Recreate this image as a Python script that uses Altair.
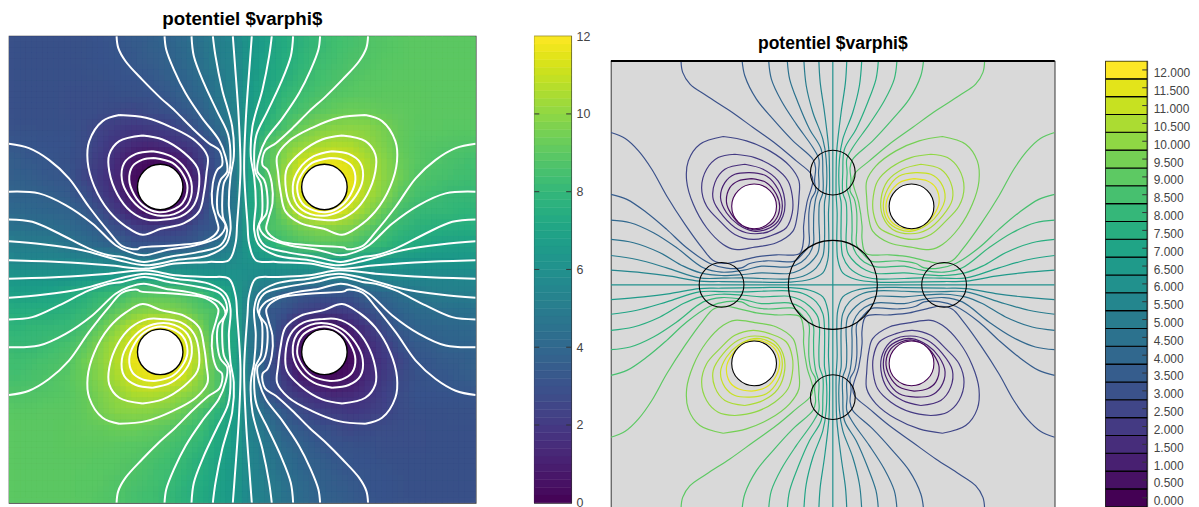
import altair as alt
import pandas as pd

FONT = "Liberation Sans"
TITLE = "potentiel $varphi$"

# ---- left panel: field estimated on the upper-left quadrant (rows top to bottom)
FIELD = [
 [3.0,3.0,3.0,3.0,3.05,3.15,3.25,3.45,3.6,3.85,4.2,4.6,5.1,5.6],
 [3.0,3.0,3.0,3.0,3.05,3.1,3.2,3.35,3.55,3.75,4.1,4.5,5.0,5.55],
 [3.0,3.0,3.0,3.0,3.0,3.05,3.1,3.2,3.4,3.6,3.9,4.35,4.9,5.45],
 [3.0,3.0,3.0,2.95,2.95,2.95,3.0,3.05,3.15,3.4,3.7,4.05,4.75,5.4],
 [3.0,3.0,3.0,2.95,2.9,2.85,2.7,2.65,2.8,3.0,3.4,3.75,4.55,5.35],
 [3.05,3.05,3.0,3.0,2.85,2.45,2.15,2.05,2.1,2.3,2.7,3.4,4.1,5.2],
 [3.25,3.2,3.15,3.1,2.85,2.35,1.9,1.5,1.4,1.6,2.0,2.4,3.3,5.05],
 [3.55,3.4,3.25,3.05,2.7,2.1,1.5,0.7,0.4,0.5,1.0,2.1,3.2,5.0],
 [3.65,3.55,3.4,3.25,2.6,2.05,1.3,0.4,0.05,0.05,0.55,1.7,3.3,4.9],
 [3.85,3.85,3.65,3.45,3.0,2.2,1.5,0.5,0.05,0.05,0.6,1.9,3.8,4.85],
 [4.1,4.0,3.95,3.85,3.5,2.8,2.0,1.2,0.4,0.4,1.0,2.4,3.9,4.9],
 [4.5,4.45,4.35,4.2,3.9,3.5,2.9,2.3,2.1,2.2,2.5,3.1,3.4,5.0],
 [5.1,5.05,5.0,4.7,4.4,4.0,3.75,3.2,3.1,3.1,3.3,3.6,4.5,5.3],
 [5.65,5.65,5.65,5.65,5.55,5.5,5.3,5.25,5.2,5.2,5.3,5.55,5.6,5.85],
]

L_A = [(323,0),(328,35),(350,75),(400,130),(450,180),(500,225),(550,275),(600,320),(632,342),(640,385),(625,400),(612,440),(610,500),(622,545),(628,580),(590,612),(500,625),(395,632),(385,637),(340,628),(300,585),(240,510),(180,425),(120,370),(60,335),(0,322)]
L_B = [(467,0),(472,40),(495,100),(530,170),(580,245),(630,310),(650,360),(655,405),(635,430),(625,480),(628,530),(650,565),(630,600),(560,625),(470,640),(405,655),(360,645),(320,625),(250,560),(170,505),(90,470),(0,465)]
L_C = [(548,0),(555,60),(585,140),(625,225),(658,295),(665,370),(660,410),(645,440),(640,500),(642,540),(655,580),(635,625),(570,645),(480,660),(405,675),(340,660),(300,655),(240,635),(150,590),(70,555),(0,548)]
L_D = [(612,0),(620,60),(640,160),(670,270),(675,360),(665,420),(660,500),(665,580),(650,625),(600,655),(500,670),(410,685),(330,670),(220,640),(100,622),(0,613)]
L_E = [(672,0),(678,80),(690,250),(695,400),(685,560),(680,620),(660,670),(600,675),(500,680),(410,695),(300,685),(150,675),(0,670)]
L_1 = [(331,236),(411,244),(491,274),(561,314),(596,359),(593,409),(586,464),(571,524),(526,559),(456,576),(401,594),(351,569),(301,524),(256,449),(236,374),(241,314),(281,254),(331,236)]
L_2 = [(401,297),(461,309),(526,349),(566,394),(571,444),(556,504),(516,539),(461,549),(416,549),(366,524),(326,474),(301,404),(301,354),(331,314),(401,297)]
L_3 = [(431,344),(486,359),(531,399),(549,449),(536,504),(496,532),(446,536),(401,519),(361,479),(339,429),(346,379),(381,352),(431,344)]
L_4 = [(436,364),(491,379),(526,419),(536,454),(521,499),(486,521),(446,526),(406,509),(376,474),(361,429),(371,389),(401,369),(436,364)]
LEFT_LINES = [L_A, L_B, L_C, L_D, L_E, L_1, L_2, L_3, L_4]
LEFT_HOLE = (454, 451)

# ---- right panel: iso-lines of the upper-left quadrant, with their level
R_30 = (3.0,[(213,6),(218,40),(240,75),(290,110),(360,155),(430,205),(500,255),(560,305),(603,342),(610,365),(592,430),(582,500),(582,540),(570,582),(500,586),(440,592),(385,605),(345,612),(310,603),(280,570),(225,495),(170,410),(125,330),(85,275),(45,238),(2,220)])
R_35 = (3.5,[(397,6),(405,50),(440,120),(490,180),(550,245),(610,300),(618,325),(615,365),(618,395),(605,420),(598,460),(598,510),(598,558),(580,582),(555,605),(538,607),(470,604),(420,612),(395,625),(350,626),(300,612),(230,565),(170,510),(110,460),(50,420),(2,405)])
R_40 = (4.0,[(477,6),(485,60),(515,125),(560,195),(610,265),(628,300),(627,340),(628,385),(618,420),(613,460),(612,510),(612,550),(600,582),(575,608),(538,622),(455,620),(402,632),(335,638),(280,625),(200,565),(130,520),(60,490),(2,482)])
R_45 = (4.5,[(533,6),(540,60),(565,130),(600,210),(635,270),(640,340),(640,400),(630,430),(628,480),(630,545),(625,580),(600,612),(570,632),(538,642),(455,640),(400,645),(335,648),(272,640),(220,620),(150,580),(70,550),(2,540)])
R_50 = (5.0,[(583,6),(590,80),(610,160),(640,240),(650,300),(650,400),(645,430),(645,480),(645,543),(640,590),(620,625),(580,650),(538,658),(455,657),(400,655),(335,656),(268,655),(170,625),(80,600),(2,588)])
R_55 = (5.5,[(628,6),(632,70),(645,160),(658,272),(660,340),(660,405),(657,460),(658,545),(655,600),(640,640),(600,660),(538,668),(455,668),(335,666),(268,665),(180,650),(100,640),(2,632)])
R_25 = (2.5,[(340,232),(410,245),(480,275),(540,320),(568,365),(568,415),(562,475),(550,515),(500,550),(435,563),(375,570),(340,555),(290,505),(250,435),(230,365),(235,305),(270,255),(340,232)])
R_20 = (2.0,[(375,285),(435,295),(495,325),(535,365),(548,410),(548,460),(530,505),(480,530),(430,540),(375,525),(330,485),(290,440),(275,385),(290,330),(325,295),(375,285)])
R_15 = (1.5,[(405,315),(460,330),(505,365),(525,420),(520,470),(490,510),(435,523),(385,510),(340,470),(310,420),(315,370),(345,330),(405,315)])
R_10 = (1.0,[(420,340),(470,350),(505,390),(518,440),(505,485),(470,510),(432,515),(385,495),(350,460),(332,415),(345,370),(375,345),(420,340)])
R_05 = (0.5,[(425,358),(470,370),(500,405),(510,445),(495,485),(465,505),(432,511),(395,497),(365,465),(350,430),(360,385),(385,365),(425,358)])
RIGHT_LINES = [R_30,R_35,R_40,R_45,R_50,R_55,R_25,R_20,R_15,R_10,R_05]
RIGHT_AXES = [(6.0,[(2,676),(1338,676)]),(6.0,[(670,6),(670,1346)])]
RIGHT_HOLE = (433, 441)
RIGHT_TOP_RING = (670, 340)
RIGHT_LEFT_RING = (335, 676)
RIGHT_CENTRE_RING = (670, 676)

BAR_TICKS = [0,2,4,6,8,10,12]
STEP_LEVELS = [0,0.5,1,1.5,2,2.5,3,3.5,4,4.5,5,5.5,6,6.5,7,7.5,8,8.5,9,9.5,10,10.5,11,11.5,12]

VIRIDIS = alt.Scale(scheme="viridis", domain=[0, 12])
LW, LH = 1401, 1395
RW, RH = 1340, 1352
RIGHT_VIEW = 449      # the lower edge of the right panel runs off the page in the reference
RIGHT_FULL = 450      # height the whole right panel would have
STEP_FULL = 448       # height the whole stepped colour bar would have

# ---- tables
cells = []
cw, ch = LW / 28, LH / 28
for r, row in enumerate(FIELD):
    for c, v in enumerate(row):
        for mx in (0, 1):
            for my in (0, 1):
                i = 27 - c if mx else c
                j = 27 - r if my else r
                val = 12 - v if mx != my else v
                cells.append(dict(x0=i*cw, x1=(i+1)*cw, y0=j*ch, y1=(j+1)*ch, v=val))
cells = pd.DataFrame(cells)

rows = []
for k, pts in enumerate(LEFT_LINES):
    for mx in (0, 1):
        for my in (0, 1):
            for s, (x, y) in enumerate(pts):
                rows.append(dict(g=f"{k}-{mx}-{my}", s=s, x=LW-x if mx else x, y=LH-y if my else y))
left_lines = pd.DataFrame(rows)

rows = []
for k, (lev, pts) in enumerate(RIGHT_LINES):
    for mx in (0, 1):
        for my in (0, 1):
            for s, (x, y) in enumerate(pts):
                rows.append(dict(g=f"{k}-{mx}-{my}", s=s, level=12-lev if mx != my else lev,
                                 x=RW-x if mx else x, y=RH-y if my else y))
for k, (lev, pts) in enumerate(RIGHT_AXES):
    for s, (x, y) in enumerate(pts):
        rows.append(dict(g=f"axis{k}", s=s, level=lev, x=x, y=y))
right_lines = pd.DataFrame(rows)

def four(p, W, H):
    return [(p[0], p[1]), (W-p[0], p[1]), (p[0], H-p[1]), (W-p[0], H-p[1])]

left_holes = pd.DataFrame(four(LEFT_HOLE, LW, LH), columns=["x", "y"])
right_holes = pd.DataFrame(four(RIGHT_HOLE, RW, RH), columns=["x", "y"])
right_holes["dark"] = [True, False, False, True]
small_rings = pd.DataFrame([RIGHT_TOP_RING, (RW-RIGHT_TOP_RING[0], RH-RIGHT_TOP_RING[1]),
                            RIGHT_LEFT_RING, (RW-RIGHT_LEFT_RING[0], RIGHT_LEFT_RING[1])], columns=["x", "y"])
big_ring = pd.DataFrame([RIGHT_CENTRE_RING], columns=["x", "y"])

# ---- left panel
lxs = alt.Scale(domain=[0, LW], nice=False, zero=False)
lys = alt.Scale(domain=[LH, 0], nice=False, zero=False)
lx = alt.X("x:Q", scale=lxs, axis=None)
ly = alt.Y("y:Q", scale=lys, axis=None)

def heat_layer(dx, dy, alpha):
    # the same field, drawn slightly displaced and translucent, softens the cell edges
    return alt.Chart(cells).transform_calculate(
        xa=f"datum.x0+{dx}", xb=f"datum.x1+{dx}", ya=f"datum.y0+{dy}", yb=f"datum.y1+{dy}"
    ).mark_rect(opacity=alpha, clip=True).encode(
        x=alt.X("xa:Q", scale=lxs, axis=None), x2="xb:Q",
        y=alt.Y("ya:Q", scale=lys, axis=None), y2="yb:Q",
        fill=alt.Fill("v:Q", scale=VIRIDIS, legend=None))

base = alt.Chart(cells).mark_rect(strokeWidth=1, clip=True).encode(
    x=alt.X("x0:Q", scale=lxs, axis=None), x2="x1:Q",
    y=alt.Y("y0:Q", scale=lys, axis=None), y2="y1:Q",
    fill=alt.Fill("v:Q", scale=VIRIDIS, legend=None),
    stroke=alt.Stroke("v:Q", scale=VIRIDIS, legend=None))
third = cw / 3
offsets = [(-third, -third), (third, third), (third, -third), (-third, third), (-third, 0), (third, 0), (0, -third), (0, third)]
heats = [base] + [heat_layer(round(dx, 2), round(dy, 2), round(1 / (k + 2), 3)) for k, (dx, dy) in enumerate(offsets)]
lcurves = alt.Chart(left_lines).mark_line(color="white", strokeWidth=2, interpolate="catmull-rom", clip=True).encode(
    x=lx, y=ly, detail="g:N", order="s:Q")
lholes = alt.Chart(left_holes).mark_point(filled=False, fill="white", fillOpacity=1, stroke="black", strokeWidth=1.4, opacity=1, shape="circle", size=2090).encode(x=lx, y=ly)
left = alt.layer(*heats, lcurves, lholes).properties(
    width=469, height=469,
    title=alt.TitleParams(TITLE, font=FONT, fontSize=18.8, fontWeight="bold", anchor="middle", offset=7),
    view=alt.ViewBackground(stroke="#333333", strokeWidth=1.2))

# ---- left colour bar
bar = pd.DataFrame({"a": [i/5 for i in range(60)]})
bar["b"] = bar["a"] + 0.2
bar["m"] = bar["a"] + 0.1
bys = alt.Scale(domain=[0, 12], nice=False, zero=False)
by_axis = alt.Axis(orient="right", values=BAR_TICKS, ticks=False, domain=False, grid=False, title=None,
                   labelFont=FONT, labelFontSize=12.5, labelColor="#444444", labelPadding=5, labelFlush=False)
bar_rect = alt.Chart(bar).mark_rect(strokeWidth=0.5).encode(
    x=alt.value(0), x2=alt.value(37),
    y=alt.Y("a:Q", scale=bys, axis=by_axis), y2="b:Q",
    fill=alt.Fill("m:Q", scale=VIRIDIS, legend=None), stroke=alt.Stroke("m:Q", scale=VIRIDIS, legend=None))
tk = pd.DataFrame({"t": BAR_TICKS[1:-1]})
tick_l = alt.Chart(tk).mark_rule(color="#333333").encode(
    x=alt.value(0), x2=alt.value(5), y=alt.Y("t:Q", scale=bys, axis=by_axis))
tick_r = alt.Chart(tk).mark_rule(color="#333333").encode(
    x=alt.value(32), x2=alt.value(37), y=alt.Y("t:Q", scale=bys, axis=by_axis))
bar_left = alt.layer(bar_rect, tick_l, tick_r).properties(
    width=37, height=469,
    view=alt.ViewBackground(stroke="#333333", strokeWidth=1.2))

# ---- right panel
rxs = alt.Scale(domain=[2, 1338], nice=False, zero=False)
rys = alt.Scale(domain=[6 + 1340 * RIGHT_VIEW / RIGHT_FULL, 6], nice=False, zero=False)
rx = alt.X("x:Q", scale=rxs, axis=None)
ry = alt.Y("y:Q", scale=rys, axis=None)
rcurves = alt.Chart(right_lines).mark_line(strokeWidth=1.2, interpolate="catmull-rom", clip=True).encode(
    x=rx, y=ry, detail="g:N", order="s:Q", color=alt.Color("level:Q", scale=VIRIDIS, legend=None))
rholes = alt.Chart(right_holes).mark_point(filled=False, fill="white", fillOpacity=1, strokeWidth=1.1, opacity=1, shape="circle", size=2025).encode(
    x=rx, y=ry, stroke=alt.Stroke("dark:N", scale=alt.Scale(domain=[True, False], range=["#440154", "black"]), legend=None))
rsmall = alt.Chart(small_rings).mark_point(filled=False, stroke="black", strokeWidth=1.1, opacity=1, shape="circle", size=2025).encode(x=rx, y=ry)
rbig = alt.Chart(big_ring).mark_point(filled=False, stroke="black", strokeWidth=1.1, opacity=1, shape="circle", size=8010).encode(x=rx, y=ry)
rtop = alt.Chart(big_ring).mark_rule(color="black", strokeWidth=2).encode(y=alt.value(0), x=alt.value(0), x2=alt.value(446))
right = alt.layer(rcurves, rholes, rsmall, rbig, rtop).properties(
    width=446, height=RIGHT_VIEW,
    view=alt.ViewBackground(fill="#d9d9d9", stroke="#555555", strokeWidth=1.2))

# ---- right colour bar
steps = pd.DataFrame({"level": STEP_LEVELS})
steps["a"] = steps["level"] - 0.25
steps["b"] = steps["level"] + 0.25
sy_scale = alt.Scale(domain=[12.25 - RIGHT_VIEW * 12.5 / STEP_FULL, 12.25], nice=False, zero=False)
sy_axis = alt.Axis(orient="right", values=STEP_LEVELS, format=".3f", ticks=False, domain=False, grid=False,
                   title=None, labelFont=FONT, labelFontSize=12, labelColor="#444444", labelPadding=6, labelOffset=3,
                   labelFlush=False, labelOverlap=False)
step_rect = alt.Chart(steps).mark_rect(stroke="black", strokeWidth=1.1, clip=True).encode(
    x=alt.value(0), x2=alt.value(42),
    y=alt.Y("a:Q", scale=sy_scale, axis=sy_axis),
    y2="b:Q", fill=alt.Fill("level:Q", scale=VIRIDIS, legend=None))
step_tick = alt.Chart(steps).mark_rule(color="#333333").encode(
    x=alt.value(37), x2=alt.value(42), y=alt.Y("level:Q", scale=sy_scale, axis=sy_axis))
bar_right = alt.layer(step_rect, step_tick).properties(
    width=42, height=RIGHT_VIEW,
    view=alt.ViewBackground(stroke="#555555", strokeWidth=1.2))

# the right panel sits lower than the left one; its title occupies that strip
right_title = alt.Chart(pd.DataFrame({"t": [TITLE]})).mark_text(
    font=FONT, fontSize=17.6, fontWeight="bold", align="center", baseline="middle", color="black"
).encode(text="t:N", x=alt.value(223), y=alt.value(8)).properties(
    width=446, height=23, view=alt.ViewBackground(stroke=None))

chart = alt.hconcat(
    alt.hconcat(left, bar_left, spacing=56),
    alt.vconcat(right_title, alt.hconcat(right, bar_right, spacing=48), spacing=0),
    spacing=18,
).resolve_scale(fill="independent", stroke="independent", color="independent", x="independent", y="independent").properties(
    padding={"left": 0, "top": 0, "right": 0, "bottom": 0}
)
chart.save("out.html", embed_options={"renderer": "svg", "actions": False})
